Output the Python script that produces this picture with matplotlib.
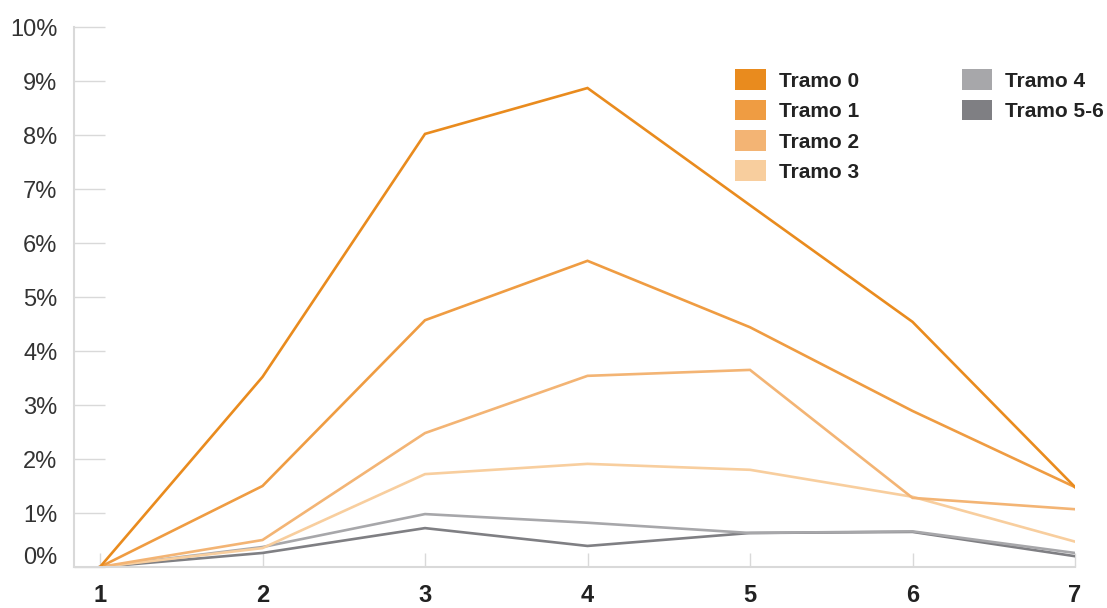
import matplotlib
matplotlib.use("Agg")
import matplotlib.pyplot as plt
import matplotlib.transforms as mtransforms
from matplotlib.patches import Patch

# Datos (porcentaje)
x_vals = [1, 2, 3, 4, 5, 6, 7]
tramo_0 = [0.0, 3.52, 8.02, 8.87, 6.70, 4.54, 1.48]
tramo_1 = [0.0, 1.50, 4.57, 5.67, 4.44, 2.89, 1.48]
tramo_2 = [0.0, 0.50, 2.48, 3.54, 3.65, 1.28, 1.07]
tramo_3 = [0.0, 0.35, 1.72, 1.91, 1.80, 1.30, 0.47]
tramo_4 = [0.0, 0.37, 0.98, 0.82, 0.63, 0.66, 0.26]
tramo_56 = [0.0, 0.26, 0.72, 0.39, 0.63, 0.65, 0.20]

series = [tramo_0, tramo_1, tramo_2, tramo_3, tramo_4, tramo_56]
labels = ["Tramo 0", "Tramo 1", "Tramo 2", "Tramo 3", "Tramo 4", "Tramo 5-6"]
colors = ["#E98B1E", "#EF9C42", "#F3B474", "#F8CE9E", "#A7A7AA", "#7F7F83"]

y_ticks = list(range(0, 11))
y_ticklabels = [f"{v}%" for v in y_ticks]

plt.rcParams['font.family'] = ['Liberation Sans', 'DejaVu Sans']

fig = plt.figure(figsize=(11.07, 6.08), dpi=100)
ax = fig.add_axes([74 / 1107, 41 / 608, 1001 / 1107, 540 / 608])

# dibujar de atrás hacia adelante (grises primero)
for vals, col in reversed(list(zip(series, colors))):
    ax.plot(x_vals, vals, color=col, lw=1.9, solid_joinstyle='miter')

ax.set_xlim(0.84, 7.0)
ax.set_ylim(0, 10)

for side in ['top', 'right']:
    ax.spines[side].set_visible(False)
for side in ['left', 'bottom']:
    ax.spines[side].set_color('#d9d9d9')
    ax.spines[side].set_linewidth(1.5)

ax.set_yticks(y_ticks)
ax.set_yticklabels(y_ticklabels)
ax.tick_params(axis='y', direction='in', length=22, width=1.0, color='#d9d9d9',
               pad=12, labelsize=17, labelcolor='#333333')
ax.set_xticks(x_vals)
ax.set_xticklabels([str(v) for v in x_vals], fontweight='bold')
ax.tick_params(axis='x', direction='in', length=10, width=1.0, color='#d9d9d9',
               pad=12, labelsize=17, labelcolor='#222222')

# "0%" un poco más arriba como en el original
lbl0 = ax.get_yticklabels()[0]
lbl0.set_transform(lbl0.get_transform() +
                   mtransforms.ScaledTranslation(0, 0.12, fig.dpi_scale_trans))

# Leyenda en dos columnas (4 + 2)
handles = [Patch(facecolor=c, edgecolor='none') for c in colors]
handles += [Patch(facecolor='none', edgecolor='none')] * 2
leg_labels = labels + ["", ""]
leg = ax.legend(handles, leg_labels, ncol=2, loc='upper left',
                bbox_to_anchor=(725 / 1107, 1 - 59 / 608),
                bbox_transform=fig.transFigure, frameon=False,
                prop={'weight': 'bold', 'size': 15},
                handlelength=1.45, handleheight=1.15, handletextpad=0.62,
                columnspacing=4.95, labelspacing=0.43, borderpad=0)
for t in leg.get_texts():
    t.set_color('#222222')

fig.savefig("out.png", dpi=100)
plt.close(fig)
